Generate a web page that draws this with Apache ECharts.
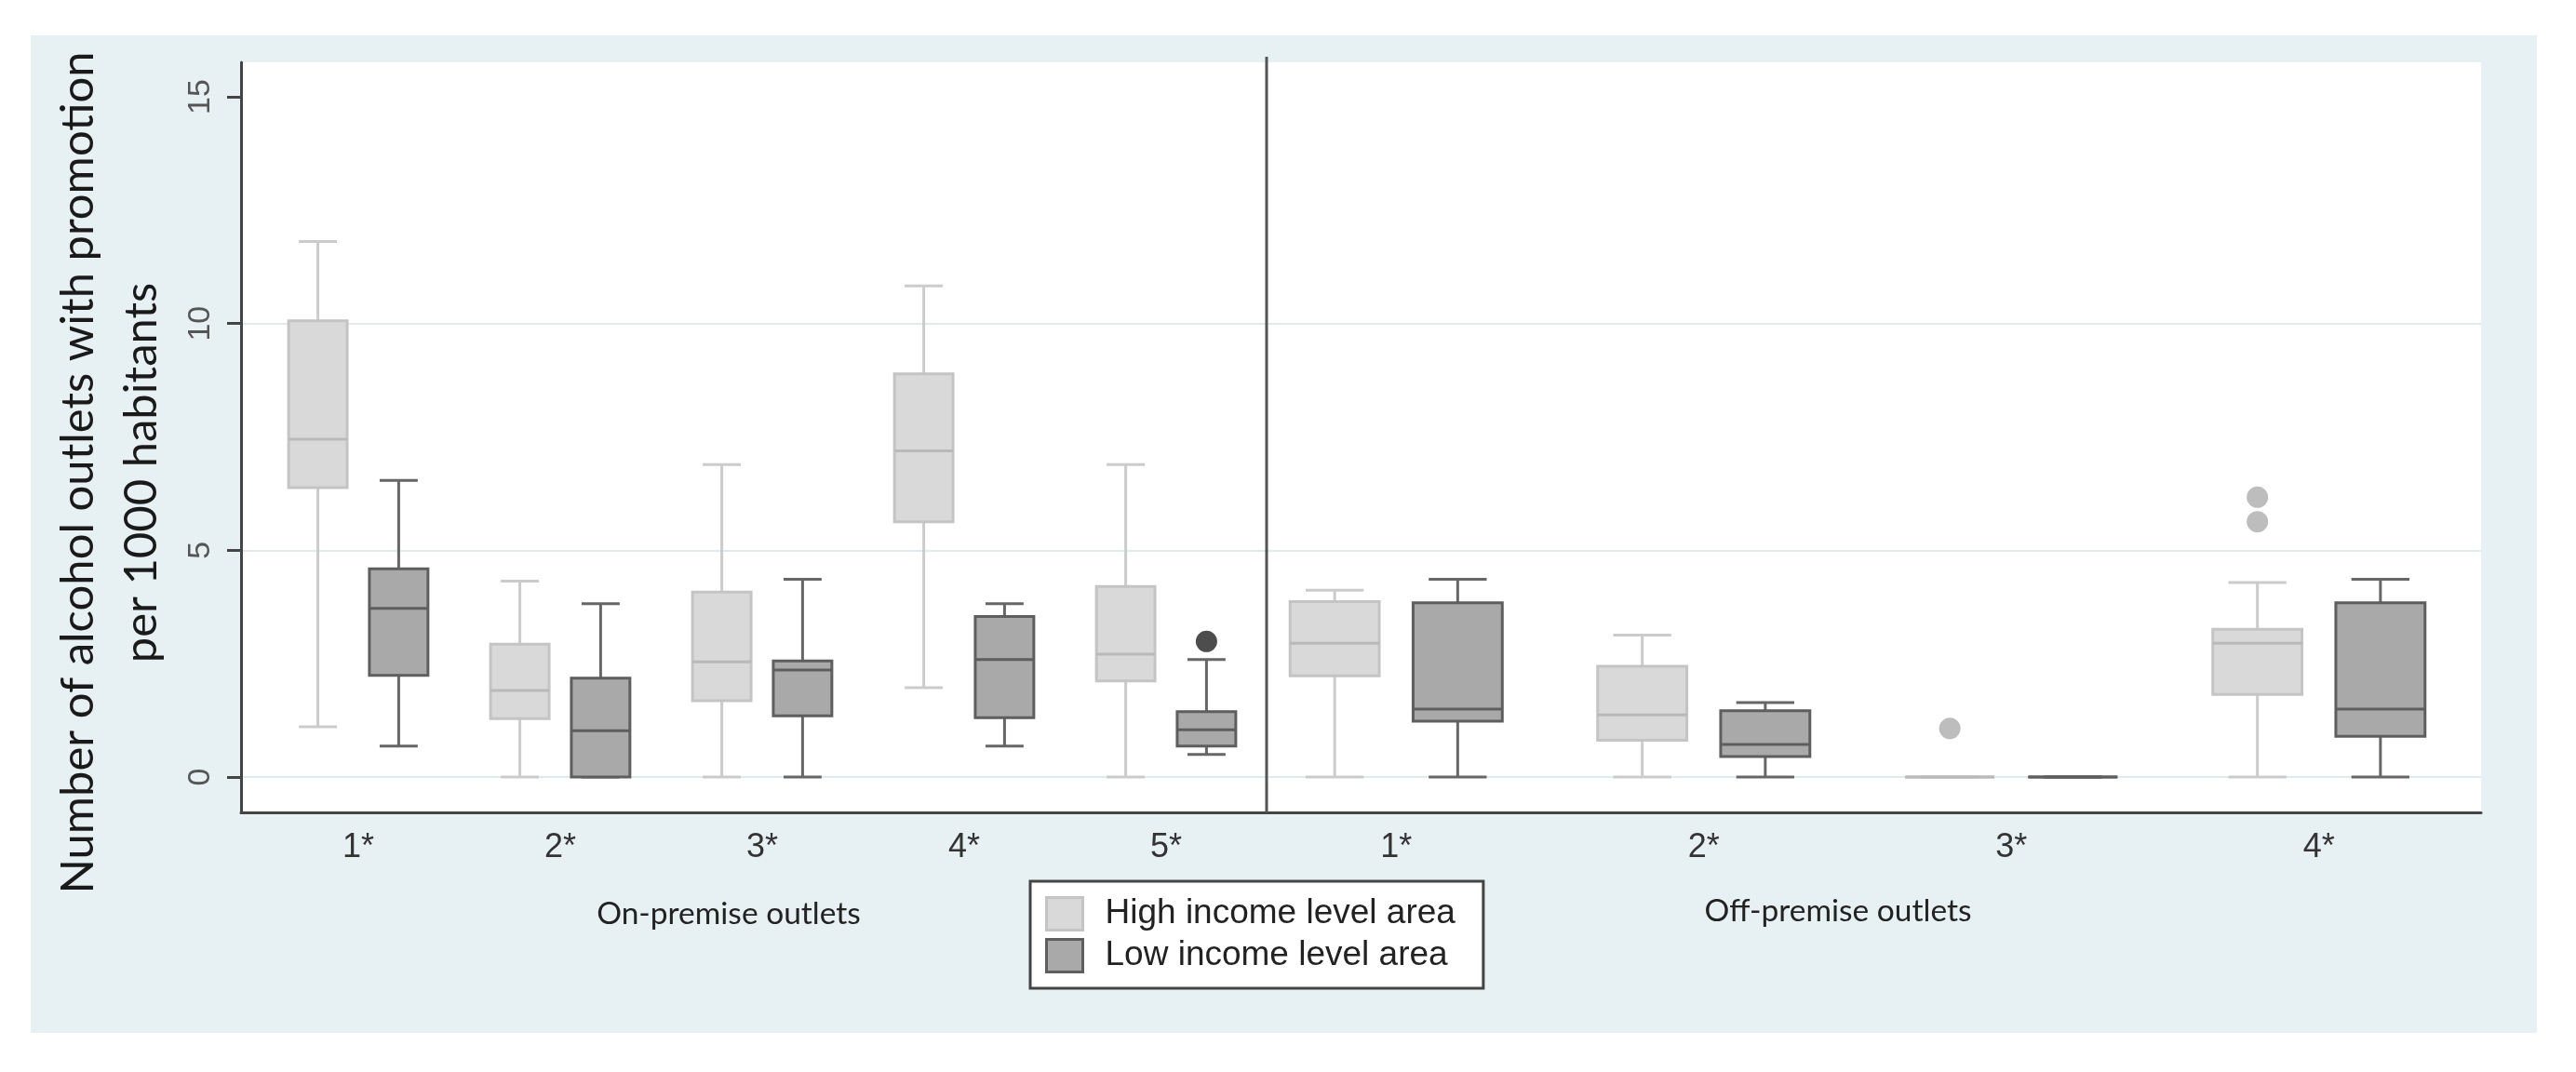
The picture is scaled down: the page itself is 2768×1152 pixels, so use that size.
<!DOCTYPE html>
<html>
<head>
<meta charset="utf-8">
<script src="https://cdn.jsdelivr.net/npm/echarts@6/dist/echarts.min.js"></script>
<style>
html,body{margin:0;padding:0;background:#ffffff;width:2768px;height:1152px;overflow:hidden;}
#chart{position:absolute;left:33px;top:38px;width:2693px;height:1072px;}
</style>
</head>
<body>
<div id="chart"></div>
<script>
// Categories
const onCats = ['1*', '2*', '3*', '4*', '5*'];
const offCats = ['1*', '2*', '3*', '4*'];
const yTicks = [0, 5, 10, 15];
const gridTicks = [0, 5, 10];
const seriesNames = ['High income level area', 'Low income level area'];
const yTitle = 'Number of alcohol outlets with promotion\nper 1000 habitants';
const onLabel = 'On-premise outlets';
const offLabel = 'Off-premise outlets';

// Box values: [min, Q1, median, Q3, max]
const onHigh = [
  [1.11, 6.38, 7.45, 10.06, 11.81],
  [0, 1.29, 1.91, 2.93, 4.32],
  [0, 1.68, 2.54, 4.08, 6.89],
  [1.97, 5.63, 7.19, 8.89, 10.83],
  [0, 2.12, 2.71, 4.20, 6.89]
];
const onLow = [
  [0.68, 2.24, 3.72, 4.59, 6.54],
  [0, 0, 1.02, 2.18, 3.82],
  [0, 1.35, 2.36, 2.56, 4.36],
  [0.68, 1.31, 2.59, 3.54, 3.82],
  [0.50, 0.68, 1.04, 1.44, 2.59]
];
const offHigh = [
  [0, 2.23, 2.95, 3.87, 4.12],
  [0, 0.81, 1.37, 2.44, 3.13],
  [0, 0, 0, 0, 0],
  [0, 1.82, 2.95, 3.26, 4.29]
];
const offLow = [
  [0, 1.23, 1.50, 3.84, 4.36],
  [0, 0.45, 0.72, 1.46, 1.64],
  [0, 0, 0, 0, 0],
  [0, 0.90, 1.50, 3.84, 4.36]
];
// Outliers: [category index, value]
const onOutHigh = [];
const onOutLow = [[4, 2.99]];
const offOutHigh = [[2, 1.07], [3, 6.17], [3, 5.63]];
const offOutLow = [];

const Y_MIN = -0.78, Y_MAX = 15.76;

const styles = {
  high: { fill: '#d9d9d9', stroke: '#c4c4c4', median: '#b9b9b9', whisker: '#cbcbcb', outlier: '#bdbdbd' },
  low:  { fill: '#a9a9a9', stroke: '#5e5e5e', median: '#5e5e5e', whisker: '#666666', outlier: '#4d4d4d' }
};

function boxRender(side, st) {
  return function (params, api) {
    const cat = api.value(0);
    const band = api.size([1, 0])[0];
    const cx = api.coord([cat, 0])[0] + side * 0.2 * band;
    const bw = 0.29 * band;
    const cw = 0.65 * bw;
    const yy = i => api.coord([cat, api.value(i)])[1];
    const yMin = yy(1), yQ1 = yy(2), yMed = yy(3), yQ3 = yy(4), yMax = yy(5);
    const ln = (x1, y1, x2, y2, c) => ({
      type: 'line', shape: { x1, y1, x2, y2 },
      style: { stroke: c, lineWidth: 3 }
    });
    return {
      type: 'group',
      children: [
        ln(cx, yQ3, cx, yMax, st.whisker),
        ln(cx, yQ1, cx, yMin, st.whisker),
        ln(cx - cw / 2, yMax, cx + cw / 2, yMax, st.whisker),
        ln(cx - cw / 2, yMin, cx + cw / 2, yMin, st.whisker),
        { type: 'rect', shape: { x: cx - bw / 2, y: yQ3, width: bw, height: yQ1 - yQ3 },
          style: { fill: st.fill, stroke: st.stroke, lineWidth: 3 } },
        ln(cx - bw / 2, yMed, cx + bw / 2, yMed, st.median)
      ]
    };
  };
}
function outlierRender(side, st) {
  return function (params, api) {
    const cat = api.value(0);
    const band = api.size([1, 0])[0];
    const p = api.coord([cat, api.value(1)]);
    return { type: 'circle', shape: { cx: p[0] + side * 0.2 * band, cy: p[1], r: 11.5 },
      style: { fill: st.outlier } };
  };
}
const toBox = arr => arr.map((v, i) => [i].concat(v));

function boxSeries(name, data, xi, yi, side, st) {
  return { type: 'custom', name, xAxisIndex: xi, yAxisIndex: yi, data: toBox(data),
    encode: { x: 0, y: [1, 2, 3, 4, 5] }, renderItem: boxRender(side, st), z: 3 };
}
function outSeries(name, data, xi, yi, side, st) {
  return { type: 'custom', name, xAxisIndex: xi, yAxisIndex: yi, data,
    encode: { x: 0, y: 1 }, renderItem: outlierRender(side, st), z: 4 };
}

const hiddenY = gi => ({ type: 'value', gridIndex: gi, min: Y_MIN, max: Y_MAX, show: false });
const catX = (gi, cats) => ({
  type: 'category', gridIndex: gi, data: cats, boundaryGap: true,
  axisLine: { show: false }, axisTick: { show: false }, splitLine: { show: false },
  axisLabel: { fontFamily: 'Liberation Sans', fontSize: 36, color: '#333333', margin: 20 }
});

const chart = echarts.init(document.getElementById('chart'));
chart.setOption({
  animation: false,
  backgroundColor: '#e7f0f3',
  grid: [
    { left: 226, top: 29, width: 2407, height: 806, show: true, backgroundColor: '#ffffff', borderWidth: 0 },
    { left: 243.5, top: 29, width: 1085, height: 806 },
    { left: 1302, top: 29, width: 1322, height: 806 }
  ],
  xAxis: [
    { type: 'value', gridIndex: 0, min: 0, max: 1, position: 'bottom',
      axisLine: { show: true, onZero: false, lineStyle: { color: '#444444', width: 3 } },
      axisTick: { show: false }, axisLabel: { show: false }, splitLine: { show: false } },
    catX(1, onCats),
    catX(2, offCats)
  ],
  yAxis: [
    { type: 'value', gridIndex: 0, min: Y_MIN, max: Y_MAX,
      axisLine: { show: true, onZero: false, lineStyle: { color: '#444444', width: 3 } },
      axisTick: { show: true, length: 15, customValues: yTicks, lineStyle: { color: '#444444', width: 3 } },
      axisLabel: { customValues: yTicks, rotate: 90, margin: 26, fontFamily: 'Liberation Sans', fontSize: 34, color: '#555555' },
      splitLine: { show: false } },
    { type: 'value', gridIndex: 0, min: Y_MIN, max: Y_MAX,
      axisLine: { show: false }, axisLabel: { show: false },
      axisTick: { show: false, customValues: gridTicks },
      splitLine: { show: true, lineStyle: { color: '#dcebef', width: 2 } } },
    hiddenY(1),
    hiddenY(2)
  ],
  legend: {
    orient: 'vertical', left: 1074, top: 909,
    padding: [16, 30, 16, 16],
    itemWidth: 39, itemHeight: 35, itemGap: 7,
    backgroundColor: '#ffffff', borderColor: '#444444', borderWidth: 3,
    textStyle: { fontFamily: 'Liberation Sans', fontSize: 37, color: '#222222', padding: [0, 0, 0, 19] },
    data: [
      { name: seriesNames[0], icon: 'rect', itemStyle: { color: styles.high.fill, borderColor: styles.high.stroke, borderWidth: 3 } },
      { name: seriesNames[1], icon: 'rect', itemStyle: { color: styles.low.fill, borderColor: styles.low.stroke, borderWidth: 3 } }
    ]
  },
  graphic: [
    { type: 'line', shape: { x1: 1328, y1: 23, x2: 1328, y2: 835 }, style: { stroke: '#555555', lineWidth: 3 }, z: 10 },
    { type: 'text', x: 85, y: 470, rotation: Math.PI / 2,
      style: { text: yTitle, fontFamily: 'Lato', fontSize: 49, lineHeight: 68, fill: '#1a1a1a', align: 'center', verticalAlign: 'middle' } },
    { type: 'text', x: 750, y: 944,
      style: { text: onLabel, fontFamily: 'Lato', fontSize: 33.5, fill: '#222222', align: 'center', verticalAlign: 'middle' } },
    { type: 'text', x: 1942, y: 941,
      style: { text: offLabel, fontFamily: 'Lato', fontSize: 33.5, fill: '#222222', align: 'center', verticalAlign: 'middle' } }
  ],
  series: [
    boxSeries(seriesNames[0], onHigh, 1, 2, -1, styles.high),
    boxSeries(seriesNames[1], onLow, 1, 2, 1, styles.low),
    boxSeries(seriesNames[0], offHigh, 2, 3, -1, styles.high),
    boxSeries(seriesNames[1], offLow, 2, 3, 1, styles.low),
    outSeries('High outliers (on)', onOutHigh, 1, 2, -1, styles.high),
    outSeries('Low outliers (on)', onOutLow, 1, 2, 1, styles.low),
    outSeries('High outliers (off)', offOutHigh, 2, 3, -1, styles.high),
    outSeries('Low outliers (off)', offOutLow, 2, 3, 1, styles.low)
  ]
});
</script>
</body>
</html>
